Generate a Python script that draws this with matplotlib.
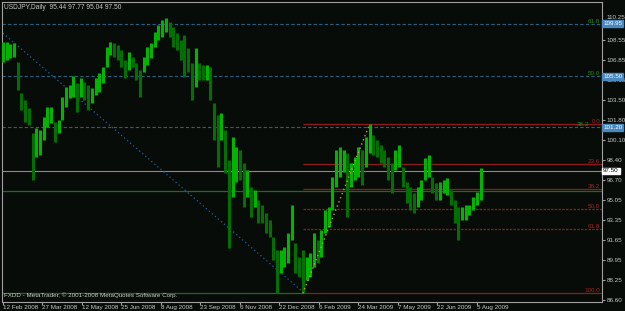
import matplotlib
matplotlib.use('Agg')
import matplotlib.pyplot as plt
import matplotlib.transforms as mtransforms

# MetaTrader 風格的小字型
plt.rcParams['font.family'] = ['Liberation Sans', 'DejaVu Sans']

# 每 3 個交易日取一根 (高, 低)
highs = [108.40, 108.40, 108.23, 108.32, 106.71, 104.09, 103.50, 102.82, 100.71, 101.13,
         100.97, 102.06, 102.91, 102.91, 101.64, 101.81, 103.75, 104.60, 104.77, 105.53,
         104.94, 105.36, 105.02, 104.77, 104.51, 105.36, 105.78, 106.29, 107.98, 108.40,
         108.32, 108.15, 107.73, 106.88, 107.56, 107.13, 106.63, 106.04, 107.13, 107.98,
         108.32, 109.25, 109.84, 110.26, 110.43, 110.09, 109.67, 109.16, 108.57, 108.99,
         107.89, 106.63, 107.89, 106.63, 106.46, 106.46, 106.29, 103.25, 102.23, 102.40,
         100.97, 98.43, 100.37, 99.53, 99.28, 98.18, 97.59, 96.15, 95.90, 95.05,
         94.63, 93.95, 93.36, 91.92, 90.83, 90.83, 91.08, 92.26, 94.63, 91.42,
         90.23, 90.83, 90.23, 90.57, 92.26, 91.67, 92.51, 94.21, 94.46, 96.99,
         99.28, 99.53, 99.28, 99.02, 98.18, 98.68, 99.53, 99.28, 100.37, 101.44,
         100.54, 100.12, 99.70, 99.28, 98.68, 98.18, 99.28, 99.70, 97.84, 96.57,
         96.15, 95.64, 96.15, 96.74, 98.60, 98.85, 96.99, 96.49, 96.57, 96.74,
         96.91, 95.90, 95.05, 94.46, 94.46, 94.63, 94.63, 95.30, 95.73, 97.77]
lows = [106.71, 106.88, 107.05, 107.13, 104.35, 102.65, 101.64, 101.39, 96.74, 98.68,
        98.85, 100.12, 101.22, 101.56, 99.95, 100.71, 101.81, 102.91, 103.67, 103.75,
        102.49, 103.75, 103.50, 102.65, 103.25, 103.92, 104.18, 104.94, 106.29, 107.30,
        107.13, 106.88, 106.29, 105.36, 106.04, 106.29, 105.19, 103.75, 105.87, 106.46,
        107.05, 107.98, 108.57, 108.82, 109.25, 108.82, 107.98, 107.73, 106.88, 105.44,
        105.87, 103.50, 104.60, 105.19, 105.19, 105.19, 103.50, 100.12, 97.84, 100.12,
        97.33, 91.00, 95.30, 96.57, 96.74, 94.46, 95.30, 93.61, 94.46, 93.11,
        93.11, 92.26, 91.92, 89.98, 87.19, 88.88, 89.39, 89.73, 91.67, 88.88,
        88.54, 87.15, 88.29, 88.54, 89.39, 89.73, 90.23, 92.26, 92.77, 94.21,
        96.15, 96.99, 97.42, 93.61, 96.15, 96.74, 96.99, 96.32, 97.84, 99.02,
        98.85, 98.68, 98.18, 97.84, 96.74, 95.64, 97.59, 97.84, 96.15, 94.80,
        94.21, 93.95, 94.46, 95.05, 96.74, 96.99, 95.64, 95.05, 95.05, 95.64,
        95.47, 94.63, 93.11, 91.67, 93.36, 93.36, 93.78, 94.21, 94.63, 95.04]
bar_step = 3

date_labels = ['12 Feb 2008', '27 Mar 2008', '12 May 2008', '25 Jun 2008', '8 Aug 2008',
               '23 Sep 2008', '6 Nov 2008', '22 Dec 2008', '6 Feb 2009', '24 Mar 2009',
               '7 May 2009', '22 Jun 2009', '5 Aug 2009']
date_step = 32

price_ticks = [110.25, 108.55, 106.85, 105.15, 103.50, 101.80, 100.10, 98.40,
               96.70, 95.05, 93.35, 91.65, 89.95, 88.25, 86.60]

# 長期費波納契 (藍 / 綠)
blue_levels = [109.95, 105.50, 101.20]
blue_labels = ['61.8', '50.0', '38.2']
green_levels = [95.85, 87.15]

# 短期費波納契 (紅): 低點 -> 高點
fib_low, fib_high = 87.15, 101.44
fib_low_idx, fib_high_idx = 243, 297
red_ratios = [0.0, 23.6, 38.2, 50.0, 61.8, 100.0]

trend_start = (0, 109.15)
trend_end = (243, 87.28)

last_close = 97.50
header = 'USDJPY,Daily  95.44 97.77 95.04 97.50'
footer = 'FXDD - MetaTrader, \u00a9 2001-2008 MetaQuotes Software Corp.'

BG = '#080c08'
GRAY = '#a0a0a0'
TXT = '#c8c8c8'

fig = plt.figure(figsize=(6.25, 3.11), dpi=100, facecolor=BG)
ax = fig.add_axes([2 / 625, 9 / 311, 600 / 625, 300 / 311], facecolor=BG)
x_max = 485.4
ax.set_xlim(-0.8, x_max)
ax.set_ylim(86.43, 111.78)
trans = mtransforms.blended_transform_factory(ax.transAxes, ax.transData)

# 價格 K 棒
xs = [i * bar_step for i in range(len(highs))]
cols = []
for i in range(len(highs)):
    mid = (highs[i] + lows[i]) / 2
    prev = (highs[i - 1] + lows[i - 1]) / 2 if i > 0 else mid
    cols.append('#00b400' if mid >= prev else '#007000')
ax.vlines(xs, lows, highs, colors=cols, linewidth=2.2, zorder=3)

# 水平線
for p in blue_levels:
    ax.axhline(p, color='#2a5f7f', lw=0.8, ls=(0, (3, 2)), zorder=2)
ax.axhline(green_levels[0], color='#1f6a1f', lw=0.9, zorder=2)
ax.hlines(green_levels[1], -0.8, fib_low_idx, color='#1f6a1f', lw=0.9, zorder=2)
ax.axhline(last_close, color='#8a8a8a', lw=0.8, zorder=2)

for r in red_ratios:
    p = fib_high - r / 100 * (fib_high - fib_low)
    ls = (0, (2, 1)) if r in (50.0, 61.8) else '-'
    ax.hlines(p, fib_low_idx, x_max, color='#8c1c1c', lw=0.9, ls=ls, zorder=2)
    ax.text(0.997, p, '%.1f' % r, transform=trans, ha='right', va='bottom',
            fontsize=4.5, color='#a02424', zorder=4)

# 綠色比例標籤 (38.2 與紅色 0.0 太接近，往左移)
for p, lab in zip(blue_levels, blue_labels):
    xpos = 0.978 if lab == '38.2' else 0.997
    ax.text(xpos, p, lab, transform=trans, ha='right', va='bottom',
            fontsize=4.5, color='#1f8a1f', zorder=4)

# 趨勢線
ax.plot([trend_start[0], trend_end[0]], [trend_start[1], trend_end[1]],
        color='#1f5f9f', lw=0.9, ls=(0, (1, 2.2)), zorder=2)
ax.plot([fib_low_idx, fib_high_idx], [fib_low, fib_high],
        color='#b8a820', lw=1.0, ls=(0, (1, 2.2)), zorder=4)

# 座標軸
for s in ax.spines.values():
    s.set_color(GRAY)
    s.set_linewidth(0.8)
ax.yaxis.tick_right()
ax.set_yticks(price_ticks)
ax.set_yticklabels(['%.2f' % p for p in price_ticks])
ax.tick_params(axis='y', colors=GRAY, labelcolor=TXT, labelsize=4.5, length=2, pad=1.5)
ax.get_yticklabels()[0].set_verticalalignment('bottom')

ax.set_xticks([i * date_step for i in range(len(date_labels))])
ax.set_xticklabels(date_labels)
plt.setp(ax.get_xticklabels(), ha='left')
ax.tick_params(axis='x', colors=GRAY, labelcolor=TXT, labelsize=4.5, length=2, pad=0.5)

# 右側價格標籤框
for p in blue_levels:
    ax.text(1.002, p, '%.2f' % p, transform=trans, ha='left', va='center', fontsize=4.5,
            color='white', zorder=6, clip_on=False,
            bbox=dict(boxstyle='square,pad=0.15', fc='#4a88c0', ec='#4a88c0'))
ax.text(1.002, last_close, '%.2f' % last_close, transform=trans, ha='left', va='center',
        fontsize=4.5, color='black', zorder=6, clip_on=False,
        bbox=dict(boxstyle='square,pad=0.15', fc='white', ec='white'))

ax.text(0.004, 0.993, header, transform=ax.transAxes, ha='left', va='top',
        fontsize=4.8, color=TXT, zorder=6)
ax.text(0.004, 0.012, footer, transform=ax.transAxes, ha='left', va='bottom',
        fontsize=4.5, color=TXT, zorder=6)

fig.savefig('out.png', dpi=100, facecolor=BG)
plt.close(fig)
